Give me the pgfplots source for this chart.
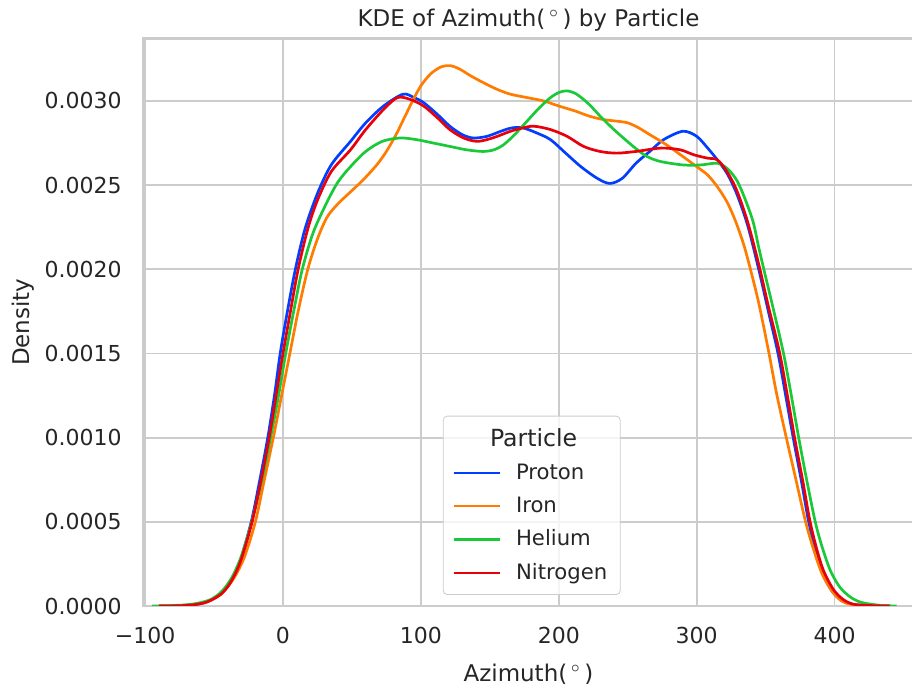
\documentclass[border=0pt]{standalone}
\usepackage{pgfplots}
\pgfplotsset{compat=1.18}
\usepackage{fontspec}
\setmainfont{DejaVu Sans}
\definecolor{cblue}{HTML}{023EFF}
\definecolor{corange}{HTML}{FF7C00}
\definecolor{cgreen}{HTML}{1AC938}
\definecolor{cred}{HTML}{E8000B}
\definecolor{txt}{HTML}{262626}
\definecolor{gridc}{HTML}{CCCCCC}
\begin{document}
\begin{tikzpicture}
\begin{axis}[
 at={(0,0)}, anchor=south west,
 scale only axis, width=385.5pt, height=283.75pt,
 xmin=-101.5, xmax=457.6, ymin=0, ymax=0.003371,
 axis line style={gridc, line width=1.2pt},
 grid=major, major grid style={gridc, line width=0.9pt},
 major tick length=0pt, tick style={draw=none},
 xtick={-100,0,100,200,300,400},
 xticklabels={−100,0,100,200,300,400},
 ytick={0,0.0005,0.001,0.0015,0.002,0.0025,0.003},
 yticklabels={0.0000,0.0005,0.0010,0.0015,0.0020,0.0025,0.0030},
 scaled y ticks=false,
 xticklabel style={anchor=base, yshift=-18.7pt, font=\fontsize{11}{13}\selectfont, text=txt},
 yticklabel style={anchor=east, inner sep=0pt, xshift=-10.5pt, font=\fontsize{11}{13}\selectfont, text=txt},
 xlabel={Azimuth(\,$^\circ$\,)},
 ylabel={Density},
 title={KDE of Azimuth(\,$^\circ$\,) by Particle},
 every axis title shift=0pt,
 xlabel style={at={(axis description cs:0.5,0)}, anchor=base, yshift=-37.8pt, font=\fontsize{11.5}{13}\selectfont, text=txt},
 ylabel style={at={(axis description cs:-0.1556,0.5)}, anchor=center, font=\fontsize{11.5}{13}\selectfont, text=txt},
 title style={at={(axis description cs:0.5,1)}, anchor=base, yshift=5.9pt, font=\fontsize{11.5}{13}\selectfont, text=txt},
 legend cell align=left,
 legend image code/.code={\draw[#1, mark=none] (0pt,0pt) -- (23pt,0pt);},
 legend style={at={(axis description cs:0.389,0.0194)}, anchor=south west,
   draw=gridc, rounded corners=2pt, fill=white, fill opacity=0.8, text opacity=1,
   font=\fontsize{10.6}{12}\selectfont, text=txt, row sep=3.3pt, column sep=5.5pt,
   inner xsep=4.5pt, inner ysep=4pt},
]
\addlegendimage{empty legend}
\addlegendentry{\hspace*{-13pt}\fontsize{11.8}{13}\selectfont Particle}

\addplot[cblue, line width=1.35pt, smooth] coordinates {
(-90,0) (-75,0.0000015) (-65,0.000007) (-55,0.000025) (-45,0.000075) (-38,0.00015)
(-31,0.00027) (-23,0.00050) (-17,0.00074) (-11,0.00100) (-6,0.00126) (-2,0.00150)
(3,0.00174) (9,0.00200) (16,0.00224) (25,0.00245) (35,0.00262) (49,0.00276)
(60,0.00287) (73,0.00297) (87,0.00304) (95,0.00302) (102,0.00299) (112,0.00292)
(121,0.00285) (130,0.00280) (138,0.00278) (148,0.00279) (158,0.00282) (166,0.00284)
(174,0.00284) (184,0.00281) (194,0.00277) (205,0.00269) (216,0.00261) (228,0.00254)
(237,0.00251) (246,0.00254) (256,0.00263) (266,0.00270) (276,0.00277) (290,0.00282)
(300,0.00279) (308,0.00272) (315,0.00265) (322,0.00257) (329,0.00245) (337,0.00226)
(345,0.00200) (352,0.00175) (359,0.00150) (365,0.00123) (370,0.00100) (376,0.00074)
(381,0.00051) (386,0.00033) (391,0.00020) (398,0.00009) (405,0.000035) (413,0.00001)
(425,0.000002) (440,0)
};
\addlegendentry{Proton}

\addplot[corange, line width=1.35pt, smooth] coordinates {
(-90,0) (-75,0.000002) (-65,0.000008) (-55,0.000025) (-45,0.00007) (-36,0.00016)
(-28,0.00029) (-20,0.00050) (-14,0.00073) (-7,0.00100) (-1,0.00125) (5,0.00150)
(11,0.00175) (18,0.00200) (25,0.00218) (32,0.00231) (40,0.00239) (49,0.00246)
(58,0.00253) (68,0.00262) (75,0.00270) (82,0.00280) (88,0.00290) (94,0.00300)
(100,0.00309) (107,0.00316) (114,0.00320) (121,0.00321) (128,0.00319) (136,0.00315)
(145,0.00311) (155,0.00307) (165,0.00304) (177,0.00302) (189,0.00300) (200,0.00297)
(212,0.00294) (222,0.00291) (232,0.00289) (242,0.00288) (250,0.00287) (258,0.00284)
(266,0.00280) (278,0.00274) (290,0.00267) (300,0.00261) (308,0.00256) (315,0.00249)
(322,0.00240) (328,0.00229) (334,0.00215) (339,0.00200) (345,0.00180) (352,0.00152)
(358,0.00126) (365,0.00100) (372,0.00075) (379,0.00050) (385,0.00033) (391,0.00019)
(398,0.00009) (405,0.00003) (412,0.00001) (425,0.000002) (440,0)
};
\addlegendentry{Iron}

\addplot[cgreen, line width=1.35pt, smooth] coordinates {
(-95,0.0000003) (-85,0.0000015) (-72,0.000006) (-62,0.000016) (-52,0.00004) (-44,0.00009)
(-37,0.00017) (-30,0.00030) (-22,0.00052) (-15,0.00076) (-9,0.00100) (-3,0.00126)
(2,0.00150) (8,0.00176) (14,0.00200) (22,0.00222) (32,0.00240) (40,0.00252)
(49,0.00261) (60,0.00270) (72,0.00276) (85,0.00278) (97,0.00277) (109,0.00275)
(121,0.00273) (133,0.00271) (145,0.00270) (153,0.00271) (160,0.00274) (168,0.00280)
(177,0.00288) (186,0.00296) (194,0.00302) (200,0.00305) (206,0.00306) (213,0.00304)
(222,0.00298) (230,0.00291) (240,0.00283) (254,0.00273) (264,0.00267) (274,0.00264)
(290,0.00262) (303,0.00262) (315,0.00263) (322,0.00260) (329,0.00253) (335,0.00242)
(341,0.00228) (345,0.00213) (349,0.00199) (356,0.00175) (363,0.00150) (368,0.00128)
(374,0.00100) (380,0.00074) (386,0.00050) (391,0.00035) (397,0.00021) (404,0.00011)
(412,0.00005) (420,0.00002) (433,0.000004) (445,0)
};
\addlegendentry{Helium}

\addplot[cred, line width=1.35pt, smooth] coordinates {
(-90,0) (-75,0.0000015) (-65,0.000007) (-55,0.000024) (-45,0.00007) (-38,0.00014)
(-31,0.00026) (-23,0.00048) (-17,0.00070) (-10,0.00100) (-5,0.00125) (0,0.00150)
(5,0.00173) (11,0.00200) (18,0.00224) (25,0.00241) (35,0.00258) (49,0.00271)
(60,0.00283) (73,0.00295) (83,0.00302) (92,0.00301) (102,0.00297) (112,0.00290)
(121,0.00283) (131,0.00278) (141,0.00276) (152,0.00278) (165,0.00282) (174,0.00284)
(182,0.00285) (194,0.00283) (206,0.00279) (218,0.00273) (230,0.00270) (242,0.00269)
(256,0.00270) (274,0.00272) (288,0.00271) (298,0.00268) (308,0.00266) (315,0.00265)
(322,0.00258) (329,0.00247) (337,0.00228) (345,0.00203) (352,0.00178) (360,0.00151)
(366,0.00124) (371,0.00100) (377,0.00074) (382,0.00051) (387,0.00034) (392,0.00021)
(399,0.00010) (406,0.00004) (414,0.00001) (428,0.000002) (440,0)
};
\addlegendentry{Nitrogen}
\end{axis}
\pgfresetboundingbox
\path[use as bounding box] (-71.5pt,-40pt) rectangle (384.5pt,303pt);
\end{tikzpicture}
\end{document}
